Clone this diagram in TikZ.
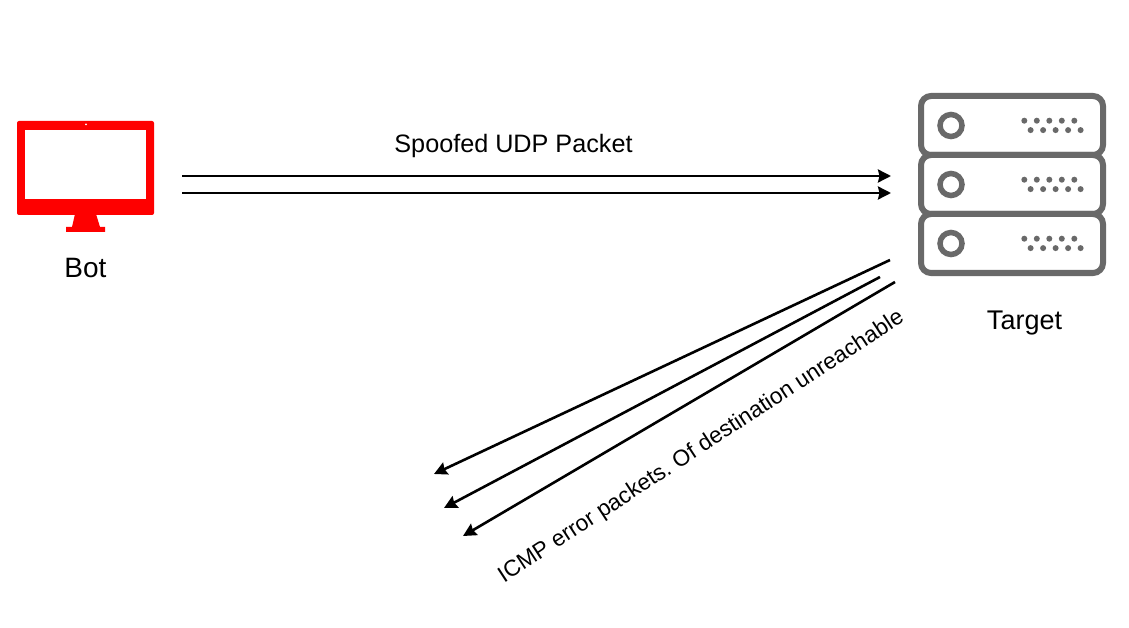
\documentclass[tikz,border=0pt]{standalone}
\usepackage{fontspec}
\setmainfont{Liberation Sans}
\usetikzlibrary{arrows.meta, positioning}
\definecolor{botred}{RGB}{254,0,0}
\definecolor{servergray}{RGB}{105,105,105}
\frenchspacing
\tikzset{
packet/.style={-{Stealth[length=13pt,width=13pt,inset=1.5pt]}, line width=2.6pt, black}, % the arrows
label/.style={font=\fontsize{#1}{30}\selectfont, inner sep=0pt}, % every text
unit/.style={draw=servergray, line width=6pt, rounded corners=10pt, fill=white, minimum width=182pt, minimum height=59pt, inner sep=0pt}, % one server drawer
led/.style={circle, draw=servergray, line width=5.5pt, minimum size=22pt, inner sep=0pt},
vent/.style={circle, fill=servergray, minimum size=6pt, inner sep=0pt},
}

\begin{document}
\begin{tikzpicture}[x=1pt, y=-1pt]
  \useasboundingbox (0,0) rectangle (1129,628);

  % bot
  \fill[botred, rounded corners=2pt] (17,121) rectangle (154,215);
  \fill[white] (25,130) rectangle (146,199);
  \fill[white] (86,124.5) circle (1pt);
  \fill[botred] (75,214) -- (96,214) -- (100,227) -- (105,227) -- (105,232) -- (66,232) -- (66,227) -- (72,227) -- cycle;
  \node[label=28] (botlabel) at (85.5,268.5) {Bot};

  % target
  \foreach \name/\ypos in {one/125.5, two/184.5, three/243.5} {
    \node[unit] (\name) at (1012,\ypos) {};
    \node[led] at (951,\ypos) {};
    \foreach \xpos in {1024.3, 1036.8, 1049.3, 1061.8, 1074.3}
      \node[vent] at (\xpos,\ypos-4.8) {};
    \foreach \xpos in {1030.6, 1043.1, 1055.6, 1068.1, 1080.6}
      \node[vent] at (\xpos,\ypos+4.6) {};
  }
  \node[label=27] (targetlabel) at (1024.5,323) {Target};

  % spoofed packets
  \coordinate (upstart) at (182,176);
  \coordinate (upend) at (891,176);
  \coordinate (downstart) at (182,193);
  \coordinate (downend) at (891,193);
  \draw[packet] (upstart) -- (upend);
  \draw[packet] (downstart) -- (downend);
  \node[label=25.2] (spoofed) at (513.5,146) {Spoofed UDP Packet};

  % icmp replies
  \coordinate (errastart) at (890,260);
  \coordinate (erraend) at (434,474);
  \coordinate (errbstart) at (880,277);
  \coordinate (errbend) at (444,508);
  \coordinate (errcstart) at (895,282);
  \coordinate (errcend) at (463,536);
  \draw[packet] (errastart) -- (erraend);
  \draw[packet] (errbstart) -- (errbend);
  \draw[packet] (errcstart) -- (errcend);
  \node[label=22.7, rotate=33.2] (icmp) at (701.5,447) {ICMP error packets. Of destination unreachable};
\end{tikzpicture}
\end{document}
